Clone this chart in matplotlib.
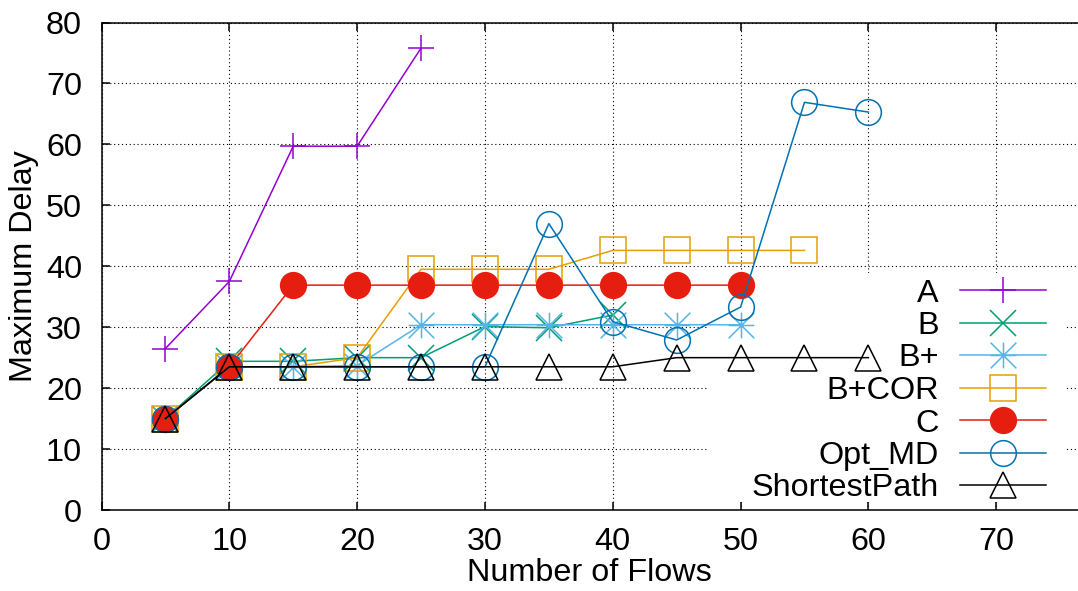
import matplotlib
matplotlib.use("Agg")
import matplotlib.pyplot as plt
from matplotlib.lines import Line2D
from matplotlib.patches import Rectangle
from matplotlib.path import Path

plt.rcParams["font.family"] = ["Liberation Sans", "DejaVu Sans"]

# maximum delay vs. number of flows, one list per routing scheme
flows = [5, 10, 15, 20, 25, 30, 35, 40, 45, 50, 55, 60]
delay_a = [26.5, 37.5, 59.7, 59.7, 75.8]
delay_b = [15.0, 24.4, 24.4, 25.0, 25.0, 30.1, 29.9, 32.0]
delay_bplus = [15.0, 23.5, 23.5, 23.7, 30.4, 30.4, 30.4, 30.4, 30.4, 30.4]
delay_bcor = [15.0, 23.5, 23.5, 25.0, 39.5, 39.5, 39.5, 42.6, 42.6, 42.6, 42.6]
delay_c = [15.0, 23.5, 36.9, 36.9, 36.9, 36.9, 36.9, 36.9, 36.9, 36.9]
delay_opt = [15.0, 23.5, 23.5, 23.5, 23.5, 23.5, 47.0, 30.9, 27.9, 33.3, 66.9, 65.3]
delay_sp = [15.0, 23.5, 23.5, 23.5, 23.5, 23.5, 23.5, 23.5, 25.0, 25.0, 25.0, 25.0]

labels = ["A", "B", "B+", "B+COR", "C", "Opt_MD", "ShortestPath"]
series = [delay_a, delay_b, delay_bplus, delay_bcor, delay_c, delay_opt, delay_sp]
colors = ["#9400d3", "#009e73", "#56b4e9", "#e69f00", "#e51e10", "#0072b2", "#000000"]

# gnuplot point type 3: plus and cross on top of each other
star = Path([(-1, 0), (1, 0), (0, -1), (0, 1), (-1, -1), (1, 1), (-1, 1), (1, -1)],
            [Path.MOVETO, Path.LINETO] * 4)
markers = ["+", "x", star, "s", "o", "o", "^"]
filled = [False, False, False, False, True, False, False]

W, H = 1078, 591
FS = 23.3
MS = 18.5
LW = 1.1

fig = plt.figure(figsize=(W / 100, H / 100), dpi=100)
ax_l, ax_r, ax_b, ax_t = 101.5, 1078, 510, 22.5
ax = fig.add_axes([ax_l / W, (H - ax_b) / H, (ax_r - ax_l) / W, (ax_b - ax_t) / H])

for ys, col, mk, fill in zip(series, colors, markers, filled):
    ax.plot(flows[:len(ys)], ys, color=col, lw=LW, marker=mk, markersize=MS,
            markeredgewidth=LW, markeredgecolor=col,
            markerfacecolor=col if fill else "none", zorder=2, clip_on=False)

ax.set_xlim(0, 76.4)
ax.set_ylim(0, 80)
ax.set_xticks(range(0, 80, 10))
ax.set_yticks(range(0, 90, 10))
ax.grid(True, color="black", linestyle=(0, (1, 2.5)), linewidth=0.8)
ax.tick_params(direction="in", length=5.5, width=LW, top=True, right=False,
               labelsize=FS, colors="black")
ax.tick_params(axis="y", pad=14)
ax.tick_params(axis="x", pad=12)
ax.spines["right"].set_visible(False)
for s in ("left", "bottom", "top"):
    ax.spines[s].set_linewidth(LW)

ax.set_xlabel("Number of Flows", fontsize=FS, labelpad=1)
ax.set_ylabel("Maximum Delay", fontsize=FS, labelpad=5)

# opaque key area hides the grid but not the ticks
box_px = (707, 1066, 502, 273)
ax.add_patch(Rectangle(((box_px[0] - ax_l) / (ax_r - ax_l), (ax_b - box_px[2]) / (ax_b - ax_t)),
                       (box_px[1] - box_px[0]) / (ax_r - ax_l),
                       (box_px[2] - box_px[3]) / (ax_b - ax_t),
                       transform=ax.transAxes, facecolor="white", edgecolor="none", zorder=1.7))

# key: labels right-aligned, samples to the right
text_x, line_x0, line_x1 = 939, 960, 1046
row0, row_step = 290, 32.5
for i, (lab, col, mk, fill) in enumerate(zip(labels, colors, markers, filled)):
    yr = row0 + i * row_step
    fy = (H - yr) / H
    fig.text(text_x / W, (H - yr - 11.5) / H, lab, fontsize=FS, ha="right", va="baseline")
    fig.add_artist(Line2D([line_x0 / W, line_x1 / W], [fy, fy], color=col, lw=LW))
    fig.add_artist(Line2D([(line_x0 + line_x1) / 2 / W], [fy], color=col, lw=0,
                          marker=mk, markersize=MS, markeredgewidth=LW, markeredgecolor=col,
                          markerfacecolor=col if fill else "none"))

fig.savefig("out.png", dpi=100)
